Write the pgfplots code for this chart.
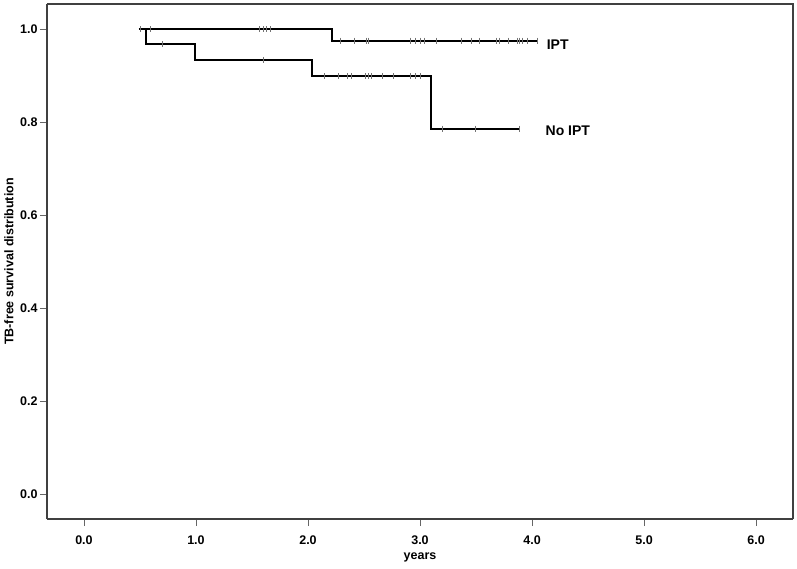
\documentclass[border=0pt]{standalone}
\usepackage{pgfplots}
\pgfplotsset{compat=1.18}
\usepackage{fontspec}
\setmainfont{Liberation Sans}
\begin{document}
\begin{tikzpicture}
\begin{axis}[
  scale only axis,
  width=746bp, height=515bp,
  xmin=-0.33, xmax=6.33,
  ymin=-0.054, ymax=1.054,
  xtick={0,1,2,3,4,5,6},
  ytick={0,0.2,0.4,0.6,0.8,1.0},
  axis x line*=bottom, axis y line*=left,
  axis line style={line width=1.2bp, draw=black!75},
  tick style={line width=0.8bp, draw=black!60},
  tick align=outside,
  major tick length=7bp,
  xtick pos=bottom, ytick pos=left,
  /pgf/number format/assume math mode=true,
  /pgf/number format/.cd, fixed, fixed zerofill, precision=1,
  /pgfplots/.cd,
  tick label style={font=\fontsize{12.5bp}{14bp}\selectfont\bfseries},
  xticklabel style={yshift=-6bp},
  yticklabel style={xshift=1bp},
  xlabel={years},
  ylabel={TB-free survival distribution},
  label style={font=\fontsize{12.5bp}{14bp}\selectfont\bfseries},
  xlabel style={at={(axis description cs:0.5,-0.0738)}, anchor=center},
  ylabel style={at={(axis description cs:-0.051,0.5)}, anchor=center, rotate=0},
  clip=false,
]
% frame top and right
\draw[line width=1.2bp, draw=black!75] (rel axis cs:0,1) -- (rel axis cs:1,1) -- (rel axis cs:1,0);
% IPT curve
\addplot[black, line width=2bp, const plot, mark=none] coordinates {
 (0.49,1.0) (2.21,0.975) (4.05,0.975)};
% No IPT curve
\addplot[black, line width=2bp, const plot, mark=none] coordinates {
 (0.49,1.0) (0.55,0.967) (0.99,0.934) (2.04,0.899) (3.10,0.786) (3.89,0.786)};
% censor marks IPT
\addplot[only marks, mark=|, mark size=3bp, draw=black!55, mark options={line width=0.7bp}] coordinates {
 (0.50,1.0) (0.59,1.0) (1.57,1.0) (1.60,1.0) (1.63,1.0) (1.66,1.0)
 (2.29,0.975) (2.41,0.975) (2.52,0.975) (2.54,0.975) (2.91,0.975) (2.96,0.975)
 (3.00,0.975) (3.04,0.975) (3.15,0.975) (3.37,0.975) (3.46,0.975) (3.53,0.975)
 (3.68,0.975) (3.71,0.975) (3.79,0.975) (3.87,0.975) (3.89,0.975) (3.91,0.975)
 (3.96,0.975) (4.05,0.975)};
% censor marks No IPT
\addplot[only marks, mark=|, mark size=3bp, draw=black!55, mark options={line width=0.7bp}] coordinates {
 (0.70,0.967) (1.60,0.934)
 (2.15,0.899) (2.27,0.899) (2.35,0.899) (2.39,0.899) (2.51,0.899) (2.54,0.899)
 (2.57,0.899) (2.66,0.899) (2.76,0.899) (2.91,0.899) (2.96,0.899) (3.00,0.899)
 (3.20,0.786) (3.49,0.786) (3.89,0.786)};
\node[anchor=west, inner sep=0pt, font=\fontsize{14bp}{16bp}\selectfont\bfseries] at (axis cs:4.13,0.966) {IPT};
\node[anchor=west, inner sep=0pt, font=\fontsize{14bp}{16bp}\selectfont\bfseries] at (axis cs:4.12,0.781) {No IPT};
\end{axis}
\pgfresetboundingbox
\path (-47bp,-50bp) rectangle (750bp,519bp);
\end{tikzpicture}
\end{document}
